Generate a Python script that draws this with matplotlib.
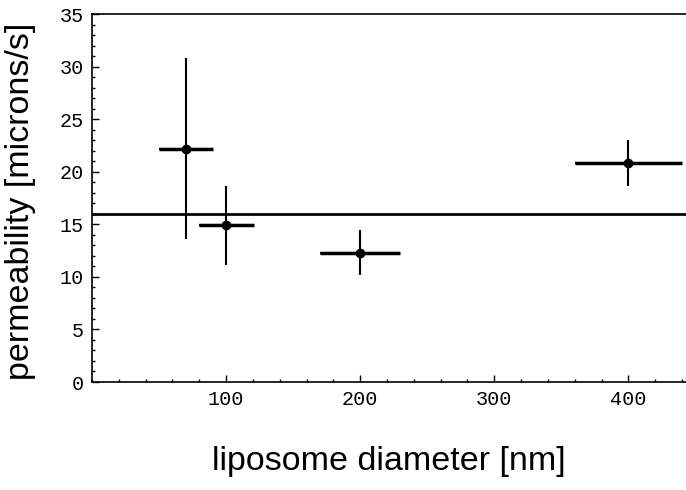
import matplotlib
matplotlib.use("Agg")
import matplotlib.pyplot as plt
from matplotlib.ticker import MultipleLocator, FixedLocator

# liposome diameter [nm] and permeability [microns/s]
diameter = [70, 100, 200, 400]
diameter_err = [20, 20.5, 30, 40]
permeability = [22.2, 14.9, 12.3, 20.8]
perm_err = [8.6, 3.75, 2.15, 2.2]
mean_perm = 16.0
x_ticks = [100, 200, 300, 400]

fig = plt.figure(figsize=(6.86, 4.9), dpi=100)
ax = fig.add_axes([92 / 686, 1 - 382 / 490, 594 / 686, 368 / 490])

ax.errorbar(diameter, permeability, xerr=diameter_err, yerr=perm_err,
            fmt='o', color='black', markersize=6, elinewidth=1.5, capsize=0)
# thicker horizontal error bars
ax.errorbar(diameter, permeability, xerr=diameter_err, fmt='none',
            ecolor='black', elinewidth=2.5, capsize=0)
ax.axhline(mean_perm, color='black', lw=2)

ax.set_xlim(0, 443)
ax.set_ylim(0, 35)
ax.xaxis.set_major_locator(FixedLocator(x_ticks))
ax.xaxis.set_minor_locator(MultipleLocator(20))
ax.yaxis.set_major_locator(MultipleLocator(5))
ax.yaxis.set_minor_locator(MultipleLocator(1))
ax.tick_params(which='both', direction='in', top=False, right=False, width=1)
ax.tick_params(which='major', length=5, labelsize=14.5, pad=6)
ax.tick_params(which='minor', length=2.5)
for lab in ax.get_xticklabels() + ax.get_yticklabels():
    lab.set_family('Liberation Mono')
ax.spines['right'].set_visible(False)
for s in ['left', 'bottom', 'top']:
    ax.spines[s].set_linewidth(1.2)

ax.set_xlabel('liposome diameter [nm]', family='Liberation Sans', fontsize=24.5)
ax.set_ylabel('permeability [microns/s]', family='Liberation Sans', fontsize=24.5)
ax.xaxis.set_label_coords(0.5, -0.175)
ax.yaxis.set_label_coords(-0.095, 0.49)

fig.savefig('out.png', dpi=100)
